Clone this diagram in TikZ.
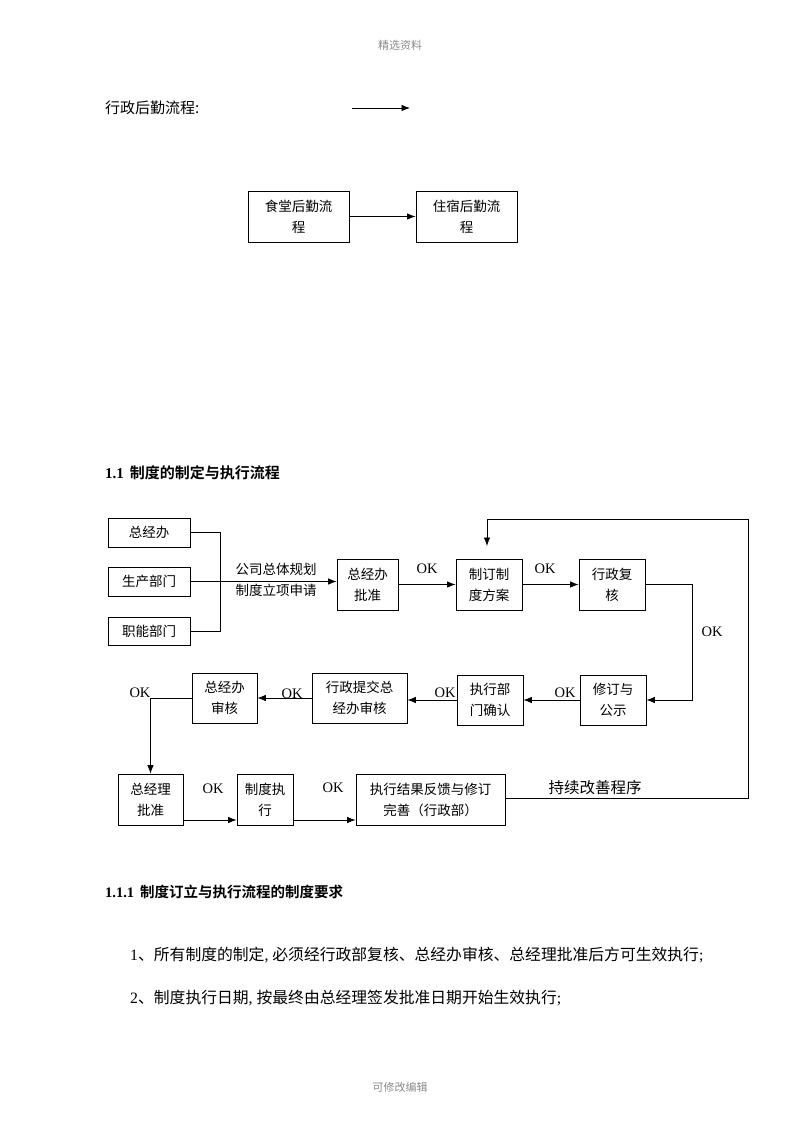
\documentclass[tikz,border=0pt]{standalone}
\usepackage{fontspec}
\setmainfont{Liberation Serif}
\newfontfamily\cjk{Noto Sans CJK SC}[BoldFont={Noto Sans CJK SC Bold}]
\usetikzlibrary{arrows.meta}
\begin{document}
\begin{tikzpicture}[x=1pt,y=-1pt,
  box/.style={draw, line width=0.8pt, inner sep=0pt, align=center,
    font=\cjk\fontsize{13.5}{21}\selectfont},
  arr/.style={-{Latex[length=8.5pt,width=6.5pt]}, line width=0.8pt},
  ln/.style={line width=0.8pt},
  ok/.style={inner sep=0pt, font=\fontsize{14.5}{16}\selectfont},
  body/.style={inner sep=0pt, anchor=west, font=\fontsize{15.8}{18}\selectfont},
  head/.style={inner sep=0pt, anchor=west, font=\bfseries\fontsize{15}{18}\selectfont},
  gray/.style={inner sep=0pt, text=black!45, font=\cjk\fontsize{11}{13}\selectfont},
]
\useasboundingbox (0,0) rectangle (800,1132);
\fill[white] (0,0) rectangle (800,1132);

% page header / footer
\node[gray] (hdr) at (400,45) {精选资料};
\node[gray] (ftr) at (400,1087) {可修改编辑};

% first section
\node[body, font=\cjk\fontsize{15}{18}\selectfont] (t1) at (105,108) {行政后勤流程:};
\coordinate (fa) at (352,108);
\coordinate (fb) at (410,108);
\draw[arr] (fa) -- (fb);

\node[box, minimum width=101, minimum height=51] (sh) at (298.5,216.5) {食堂后勤流\\程};
\node[box, minimum width=101, minimum height=51] (zs) at (466.5,216.5) {住宿后勤流\\程};
\draw[arr] (sh.east) -- (zs.west);

% section 1.1
\node[head] (h11) at (105,473) {1.1\hspace{6pt}{\cjk 制度的制定与执行流程}};

\node[box, minimum width=82, minimum height=29] (a1) at (149,532.5) {总经办};
\node[box, minimum width=82, minimum height=29] (a2) at (149,581.5) {生产部门};
\node[box, minimum width=82, minimum height=28] (a3) at (149,631) {职能部门};

\node[box, minimum width=61, minimum height=51] (b1) at (367.5,584.5) {总经办\\批准};
\node[box, minimum width=66, minimum height=51] (b2) at (489,584.5) {制订制\\度方案};
\node[box, minimum width=66, minimum height=51] (b3) at (612,584.5) {行政复\\核};

\node[box, minimum width=66, minimum height=50] (c1) at (613,700) {修订与\\公示};
\node[box, minimum width=66, minimum height=50] (c2) at (490,700) {执行部\\门确认};
\node[box, minimum width=95, minimum height=50] (c3) at (359.5,698) {行政提交总\\经办审核};
\node[box, minimum width=65, minimum height=50] (c4) at (224.5,698) {总经办\\审核};

\node[box, minimum width=65, minimum height=51] (d1) at (150.5,799.5) {总经理\\批准};
\node[box, minimum width=56, minimum height=51] (d2) at (265,799.5) {制度执\\行};
\node[box, minimum width=149, minimum height=51] (d3) at (430.5,799.5) {执行结果反馈与修订\\完善（行政部）};

% bracket and request arrow
\coordinate (brx) at (220,0);
\draw[ln] (a1.east) -| (brx |- a3.east) -- (a3.east);
\draw[arr] (a2.east) -- (a2.east -| b1.west);
\node[inner sep=0pt, font=\cjk\fontsize{13.5}{16}\selectfont] (req1) at (276,569) {公司总体规划};
\node[inner sep=0pt, font=\cjk\fontsize{13.5}{16}\selectfont] (req2) at (276,590) {制度立项申请};

% top row
\draw[arr] (b1.east) -- (b2.west);
\node[ok] (ok1) at (427,569) {OK};
\draw[arr] (b2.east) -- (b3.west);
\node[ok] (ok2) at (545,569) {OK};
\coordinate (r1) at (692,0);
\draw[arr] (b3.east) -- (b3.east -| r1) |- (c1.east);
\node[ok] (ok3) at (712,632) {OK};

% middle row
\draw[arr] (c1.west) -- (c2.east);
\node[ok] (ok4) at (565,693) {OK};
\draw[arr] (c2.west) -- (c2.west -| c3.east);
\node[ok] (ok5) at (445,693) {OK};
\draw[arr] (c3.west) -- (c3.west -| c4.east);
\node[ok] (ok6) at (292,694) {OK};
\draw[arr] (c4.west) -| (d1.north);
\node[ok] (ok7) at (140,693) {OK};

% bottom row
\draw[arr] ([yshift=-20.5pt]d1.east) -- ([yshift=-20.5pt]d1.east -| d2.west);
\node[ok] (ok8) at (213,789) {OK};
\draw[arr] ([yshift=-20.5pt]d2.east) -- ([yshift=-20.5pt]d2.east -| d3.west);
\node[ok] (ok9) at (333,788) {OK};

% feedback loop
\coordinate (lp) at (748,519);
\coordinate (lpend) at (487,546);
\draw[arr] ([yshift=1.5pt]d3.east) -| (lp) -| (lpend);
\node[inner sep=0pt, font=\cjk\fontsize{15.5}{18}\selectfont] (cont) at (595,788) {持续改善程序};

% section 1.1.1
\node[head, font=\bfseries\fontsize{14.5}{18}\selectfont] (h111) at (105,892) {1.1.1\hspace{6pt}{\cjk 制度订立与执行流程的制度要求}};
\node[body] (l1) at (130,955) {1{\cjk 、所有制度的制定}, {\cjk 必须经行政部复核、总经办审核、总经理批准后方可生效执行};};
\node[body] (l2) at (130,998) {2{\cjk 、制度执行日期}, {\cjk 按最终由总经理签发批准日期开始生效执行};};
\end{tikzpicture}
\end{document}
